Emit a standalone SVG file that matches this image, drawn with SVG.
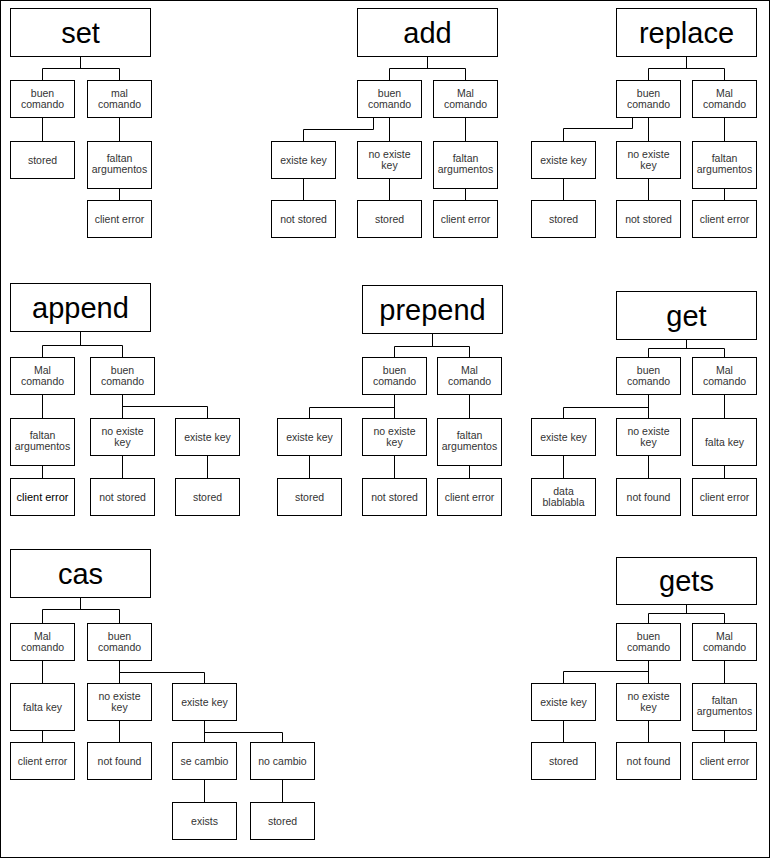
<svg xmlns="http://www.w3.org/2000/svg" width="771" height="859" viewBox="0 0 771 859">
<style>
rect{fill:#fff;stroke:#000;stroke-width:1}
.c path{fill:none;stroke:#000;stroke-width:1}
text{font-family:"Liberation Sans",Arial,sans-serif;text-anchor:middle}
.t{font-size:10.5px;fill:#333}
.h{font-size:29px;fill:#000}
.b{font-size:11px;fill:#000}
</style>
<g transform="translate(0.5,0.5)">
<rect id="border" x="0" y="0" width="769" height="857"/>
<g class="c" id="connectors">
<path d="M80,56V68M42,68H119M42,68V80M119,68V80M42,117V141M119,117V141M119,188V200"/>
<path d="M427,56V68M389,68H465M389,68V80M465,68V80M389,117V141M373,117V129H303V141M465,117V141M303,178V200M389,178V200M465,188V200"/>
<path d="M686,56V68M648,68H724M648,68V80M724,68V80M648,117V141M632,117V128H563V141M724,117V141M563,178V200M648,178V200M724,188V200"/>
<path d="M80,331V345M42,345H122M42,345V357M122,345V357M42,394V418M122,394V418M122,406H207V418M42,465V478M122,455V478M207,455V478"/>
<path d="M432,333V346M394,346H469M394,346V357M469,346V357M394,394V418M394,407H309V418M469,394V418M309,455V478M394,455V478M469,465V478"/>
<path d="M686,339V348M648,348H724M648,348V357M724,348V357M648,394V418M648,407H563V418M724,394V418M563,455V478M648,455V478M724,465V478"/>
<path d="M80,597V609M42,609H119M42,609V623M119,609V623M42,660V683M119,660V683M119,672H204V683M42,730V742M119,720V742M204,720V742M204,732H282V742M204,779V802M282,779V802"/>
<path d="M686,604V613M648,613H724M648,613V623M724,613V623M648,660V683M648,671H563V683M724,660V683M563,720V742M648,720V742M724,730V742"/>
</g>

<!-- SET -->
<g id="set_title"><rect x="10" y="8" width="140" height="48"/><text class="h" x="80" y="42">set</text></g>
<g id="set_buen"><rect x="10" y="80" width="64" height="37"/><text class="t" x="42" y="96">buen</text><text class="t" x="42" y="107">comando</text></g>
<g id="set_mal"><rect x="87" y="80" width="64" height="37"/><text class="t" x="119" y="96">mal</text><text class="t" x="119" y="107">comando</text></g>
<g id="set_stored"><rect x="10" y="141" width="64" height="37"/><text class="t" x="42" y="163.5">stored</text></g>
<g id="set_faltan"><rect x="87" y="141" width="64" height="47"/><text class="t" x="119" y="161.5">faltan</text><text class="t" x="119" y="172.5">argumentos</text></g>
<g id="set_ce"><rect x="87" y="200" width="64" height="37"/><text class="t" x="119" y="222.5">client error</text></g>

<!-- ADD -->
<g id="add_title"><rect x="357" y="8" width="140" height="48"/><text class="h" x="427" y="42">add</text></g>
<g id="add_buen"><rect x="357" y="80" width="64" height="37"/><text class="t" x="389" y="96">buen</text><text class="t" x="389" y="107">comando</text></g>
<g id="add_mal"><rect x="433" y="80" width="64" height="37"/><text class="t" x="465" y="96">Mal</text><text class="t" x="465" y="107">comando</text></g>
<g id="add_existe"><rect x="271" y="141" width="64" height="37"/><text class="t" x="303" y="163.5">existe key</text></g>
<g id="add_noexiste"><rect x="357" y="141" width="64" height="37"/><text class="t" x="389" y="157">no existe</text><text class="t" x="389" y="168">key</text></g>
<g id="add_faltan"><rect x="433" y="141" width="64" height="47"/><text class="t" x="465" y="161.5">faltan</text><text class="t" x="465" y="172.5">argumentos</text></g>
<g id="add_notstored"><rect x="271" y="200" width="64" height="37"/><text class="t" x="303" y="222.5">not stored</text></g>
<g id="add_stored"><rect x="357" y="200" width="64" height="37"/><text class="t" x="389" y="222.5">stored</text></g>
<g id="add_ce"><rect x="433" y="200" width="64" height="37"/><text class="t" x="465" y="222.5">client error</text></g>

<!-- REPLACE -->
<g id="replace_title"><rect x="616" y="8" width="140" height="48"/><text class="h" x="686" y="42">replace</text></g>
<g id="replace_buen"><rect x="616" y="80" width="64" height="37"/><text class="t" x="648" y="96">buen</text><text class="t" x="648" y="107">comando</text></g>
<g id="replace_mal"><rect x="692" y="80" width="64" height="37"/><text class="t" x="724" y="96">Mal</text><text class="t" x="724" y="107">comando</text></g>
<g id="replace_existe"><rect x="531" y="141" width="64" height="37"/><text class="t" x="563" y="163.5">existe key</text></g>
<g id="replace_noexiste"><rect x="616" y="141" width="64" height="37"/><text class="t" x="648" y="157">no existe</text><text class="t" x="648" y="168">key</text></g>
<g id="replace_faltan"><rect x="692" y="141" width="64" height="47"/><text class="t" x="724" y="161.5">faltan</text><text class="t" x="724" y="172.5">argumentos</text></g>
<g id="replace_stored"><rect x="531" y="200" width="64" height="37"/><text class="t" x="563" y="222.5">stored</text></g>
<g id="replace_notstored"><rect x="616" y="200" width="64" height="37"/><text class="t" x="648" y="222.5">not stored</text></g>
<g id="replace_ce"><rect x="692" y="200" width="64" height="37"/><text class="t" x="724" y="222.5">client error</text></g>

<!-- APPEND -->
<g id="append_title"><rect x="10" y="283" width="140" height="48"/><text class="h" x="80" y="317">append</text></g>
<g id="append_mal"><rect x="10" y="357" width="64" height="37"/><text class="t" x="42" y="373">Mal</text><text class="t" x="42" y="384">comando</text></g>
<g id="append_buen"><rect x="90" y="357" width="64" height="37"/><text class="t" x="122" y="373">buen</text><text class="t" x="122" y="384">comando</text></g>
<g id="append_faltan"><rect x="10" y="418" width="64" height="47"/><text class="t" x="42" y="438.5">faltan</text><text class="t" x="42" y="449.5">argumentos</text></g>
<g id="append_noexiste"><rect x="90" y="418" width="64" height="37"/><text class="t" x="122" y="434">no existe</text><text class="t" x="122" y="445">key</text></g>
<g id="append_existe"><rect x="175" y="418" width="64" height="37"/><text class="t" x="207" y="440.5">existe key</text></g>
<g id="append_ce"><rect x="10" y="478" width="64" height="37"/><text class="b" x="42" y="500.5">client error</text></g>
<g id="append_notstored"><rect x="90" y="478" width="64" height="37"/><text class="t" x="122" y="500.5">not stored</text></g>
<g id="append_stored"><rect x="175" y="478" width="64" height="37"/><text class="t" x="207" y="500.5">stored</text></g>

<!-- PREPEND -->
<g id="prepend_title"><rect x="362" y="285" width="140" height="48"/><text class="h" x="432" y="319">prepend</text></g>
<g id="prepend_buen"><rect x="362" y="357" width="64" height="37"/><text class="t" x="394" y="373">buen</text><text class="t" x="394" y="384">comando</text></g>
<g id="prepend_mal"><rect x="437" y="357" width="64" height="37"/><text class="t" x="469" y="373">Mal</text><text class="t" x="469" y="384">comando</text></g>
<g id="prepend_existe"><rect x="277" y="418" width="64" height="37"/><text class="t" x="309" y="440.5">existe key</text></g>
<g id="prepend_noexiste"><rect x="362" y="418" width="64" height="37"/><text class="t" x="394" y="434">no existe</text><text class="t" x="394" y="445">key</text></g>
<g id="prepend_faltan"><rect x="437" y="418" width="64" height="47"/><text class="t" x="469" y="438.5">faltan</text><text class="t" x="469" y="449.5">argumentos</text></g>
<g id="prepend_stored"><rect x="277" y="478" width="64" height="37"/><text class="t" x="309" y="500.5">stored</text></g>
<g id="prepend_notstored"><rect x="362" y="478" width="64" height="37"/><text class="t" x="394" y="500.5">not stored</text></g>
<g id="prepend_ce"><rect x="437" y="478" width="64" height="37"/><text class="t" x="469" y="500.5">client error</text></g>

<!-- GET -->
<g id="get_title"><rect x="616" y="291" width="140" height="48"/><text class="h" x="686" y="325">get</text></g>
<g id="get_buen"><rect x="616" y="357" width="64" height="37"/><text class="t" x="648" y="373">buen</text><text class="t" x="648" y="384">comando</text></g>
<g id="get_mal"><rect x="692" y="357" width="64" height="37"/><text class="t" x="724" y="373">Mal</text><text class="t" x="724" y="384">comando</text></g>
<g id="get_existe"><rect x="531" y="418" width="64" height="37"/><text class="t" x="563" y="440.5">existe key</text></g>
<g id="get_noexiste"><rect x="616" y="418" width="64" height="37"/><text class="t" x="648" y="434">no existe</text><text class="t" x="648" y="445">key</text></g>
<g id="get_faltakey"><rect x="692" y="418" width="64" height="47"/><text class="t" x="724" y="445.5">falta key</text></g>
<g id="get_data"><rect x="531" y="478" width="64" height="37"/><text class="t" x="563" y="494">data</text><text class="t" x="563" y="505">blablabla</text></g>
<g id="get_notfound"><rect x="616" y="478" width="64" height="37"/><text class="t" x="648" y="500.5">not found</text></g>
<g id="get_ce"><rect x="692" y="478" width="64" height="37"/><text class="t" x="724" y="500.5">client error</text></g>

<!-- CAS -->
<g id="cas_title"><rect x="10" y="549" width="140" height="48"/><text class="h" x="80" y="583">cas</text></g>
<g id="cas_mal"><rect x="10" y="623" width="64" height="37"/><text class="t" x="42" y="639">Mal</text><text class="t" x="42" y="650">comando</text></g>
<g id="cas_buen"><rect x="87" y="623" width="64" height="37"/><text class="t" x="119" y="639">buen</text><text class="t" x="119" y="650">comando</text></g>
<g id="cas_faltakey"><rect x="10" y="683" width="64" height="47"/><text class="t" x="42" y="710.5">falta key</text></g>
<g id="cas_noexiste"><rect x="87" y="683" width="64" height="37"/><text class="t" x="119" y="699">no existe</text><text class="t" x="119" y="710">key</text></g>
<g id="cas_existe"><rect x="172" y="683" width="64" height="37"/><text class="t" x="204" y="705.5">existe key</text></g>
<g id="cas_ce"><rect x="10" y="742" width="64" height="37"/><text class="t" x="42" y="764.5">client error</text></g>
<g id="cas_notfound"><rect x="87" y="742" width="64" height="37"/><text class="t" x="119" y="764.5">not found</text></g>
<g id="cas_secambio"><rect x="172" y="742" width="64" height="37"/><text class="t" x="204" y="764.5">se cambio</text></g>
<g id="cas_nocambio"><rect x="250" y="742" width="64" height="37"/><text class="t" x="282" y="764.5">no cambio</text></g>
<g id="cas_exists"><rect x="172" y="802" width="64" height="37"/><text class="t" x="204" y="824.5">exists</text></g>
<g id="cas_stored"><rect x="250" y="802" width="64" height="37"/><text class="t" x="282" y="824.5">stored</text></g>

<!-- GETS -->
<g id="gets_title"><rect x="616" y="557" width="140" height="47"/><text class="h" x="686" y="590">gets</text></g>
<g id="gets_buen"><rect x="616" y="623" width="64" height="37"/><text class="t" x="648" y="639">buen</text><text class="t" x="648" y="650">comando</text></g>
<g id="gets_mal"><rect x="692" y="623" width="64" height="37"/><text class="t" x="724" y="639">Mal</text><text class="t" x="724" y="650">comando</text></g>
<g id="gets_existe"><rect x="531" y="683" width="64" height="37"/><text class="t" x="563" y="705.5">existe key</text></g>
<g id="gets_noexiste"><rect x="616" y="683" width="64" height="37"/><text class="t" x="648" y="699">no existe</text><text class="t" x="648" y="710">key</text></g>
<g id="gets_faltan"><rect x="692" y="683" width="64" height="47"/><text class="t" x="724" y="703.5">faltan</text><text class="t" x="724" y="714.5">argumentos</text></g>
<g id="gets_stored"><rect x="531" y="742" width="64" height="37"/><text class="t" x="563" y="764.5">stored</text></g>
<g id="gets_notfound"><rect x="616" y="742" width="64" height="37"/><text class="t" x="648" y="764.5">not found</text></g>
<g id="gets_ce"><rect x="692" y="742" width="64" height="37"/><text class="t" x="724" y="764.5">client error</text></g>
</g>
</svg>
